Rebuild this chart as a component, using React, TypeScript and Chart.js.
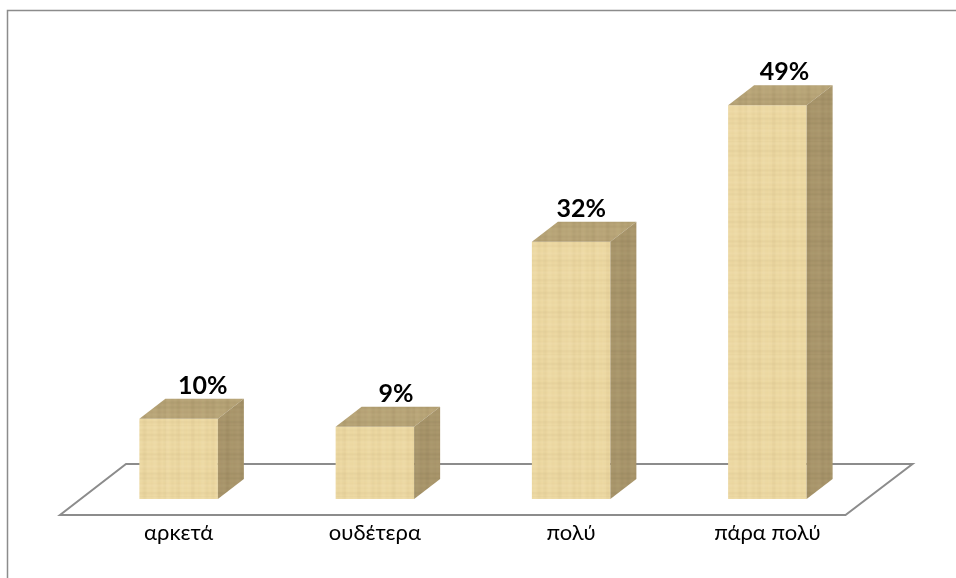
import React, { useEffect, useRef } from "react";
import { Chart, registerables } from "chart.js";

Chart.register(...registerables);

const categories = ["αρκετά", "ουδέτερα", "πολύ", "πάρα πολύ"];
const percentages = [10, 9, 32, 49];
const labelNudgeX = [24, 21, 10, 17];

const FONT = "Lato, 'Open Sans', sans-serif";
const DEPTH_X = 26;
const DEPTH_Y = 20;

function texture(base: string, dark: string, light: string) {
  const c = document.createElement("canvas");
  c.width = 83;
  c.height = 71;
  const g = c.getContext("2d")!;
  g.fillStyle = base;
  g.fillRect(0, 0, c.width, c.height);
  for (let x = 0; x < c.width; x++) {
    const v = Math.sin(x * 0.9) * 0.5 + Math.sin(x * 0.37 + 1) * 0.5;
    g.globalAlpha = Math.abs(v) * 0.16;
    g.fillStyle = v > 0 ? light : dark;
    g.fillRect(x, 0, 1, c.height);
  }
  for (let y = 0; y < c.height; y++) {
    const v = Math.sin(y * 1.3) * 0.5 + Math.sin(y * 0.31 + 2) * 0.5;
    g.globalAlpha = Math.abs(v) * 0.16;
    g.fillStyle = v > 0 ? light : dark;
    g.fillRect(0, y, c.width, 1);
  }
  g.globalAlpha = 1;
  return document.createElement("canvas").getContext("2d")!.createPattern(c, "repeat")!;
}

const decor = {
  id: "decor",
  beforeDatasetsDraw(chart: any) {
    const { ctx, chartArea: a } = chart;
    ctx.save();
    ctx.strokeStyle = "#8c8c8c";
    ctx.lineWidth = 1.5;
    ctx.beginPath();
    ctx.moveTo(956, 10.5);
    ctx.lineTo(7.5, 10.5);
    ctx.lineTo(7.5, 578);
    ctx.stroke();
    ctx.lineWidth = 2;
    ctx.lineJoin = "miter";
    ctx.beginPath();
    ctx.moveTo(a.left - 20.5, a.bottom + 16);
    ctx.lineTo(a.right - 20, a.bottom + 16);
    ctx.lineTo(a.right + 47, a.bottom - 35);
    ctx.lineTo(a.left + 45.5, a.bottom - 35);
    ctx.closePath();
    ctx.stroke();
    ctx.restore();
  },
  afterDatasetsDraw(chart: any) {
    const { ctx } = chart;
    const top = texture("#b7a477", "#8f7d55", "#cbb98c");
    const side = texture("#a8956b", "#83724d", "#bba97d");
    chart.getDatasetMeta(0).data.forEach((bar: any, i: number) => {
      const l = bar.x - bar.width / 2;
      const r = bar.x + bar.width / 2;
      const t = bar.y;
      const b = bar.base;
      ctx.save();
      ctx.fillStyle = top;
      ctx.beginPath();
      ctx.moveTo(l, t);
      ctx.lineTo(l + DEPTH_X, t - DEPTH_Y);
      ctx.lineTo(r + DEPTH_X, t - DEPTH_Y);
      ctx.lineTo(r, t);
      ctx.closePath();
      ctx.fill();
      ctx.fillStyle = side;
      ctx.beginPath();
      ctx.moveTo(r, t);
      ctx.lineTo(r + DEPTH_X, t - DEPTH_Y);
      ctx.lineTo(r + DEPTH_X, b - DEPTH_Y);
      ctx.lineTo(r, b);
      ctx.closePath();
      ctx.fill();
      ctx.fillStyle = "#000";
      ctx.font = `bold 25px ${FONT}`;
      ctx.textAlign = "center";
      ctx.textBaseline = "alphabetic";
      ctx.fillText(`${percentages[i]}%`, bar.x + labelNudgeX[i], t - DEPTH_Y - 5);
      ctx.restore();
    });
  },
};

export default function App() {
  const ref = useRef<HTMLCanvasElement>(null);
  useEffect(() => {
    const chart = new Chart(ref.current!, {
      type: "bar",
      data: {
        labels: categories,
        datasets: [
          {
            data: percentages,
            backgroundColor: texture("#ecd8a2", "#c9b27c", "#f7e8bd"),
            borderWidth: 0,
            barPercentage: 0.4,
            categoryPercentage: 1,
          },
        ],
      },
      options: {
        animation: false,
        responsive: false,
        events: [],
        layout: { padding: { left: 80.5, right: 90.5, top: 57, bottom: 0 } },
        plugins: { legend: { display: false }, tooltip: { enabled: false } },
        scales: {
          y: { display: false, min: 0, max: 55 },
          x: {
            afterFit: (s: any) => {
              s.height = 79;
            },
            border: { display: false },
            grid: { display: false },
            ticks: {
              padding: 13,
              color: "#000",
              autoSkip: false,
              maxRotation: 0,
              font: { family: FONT, size: 22 },
            },
          },
        },
      },
      plugins: [decor],
    } as any);
    return () => chart.destroy();
  }, []);
  return (
    <div style={{ position: "absolute", left: 0, top: 0, width: 956, height: 578, background: "#fff" }}>
      <canvas ref={ref} width={956} height={578} style={{ display: "block" }} />
    </div>
  );
}
